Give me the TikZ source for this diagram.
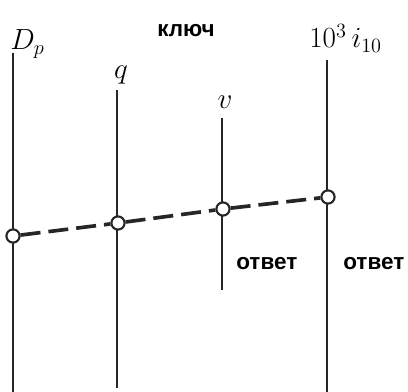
\documentclass[tikz,border=0pt]{standalone}
\usepackage{fontspec}
\newfontfamily\rusans{Liberation Sans}

\begin{document}
\begin{tikzpicture}[
    x=0.025cm, y=-0.025cm,
    scaleline/.style={black!85, line width=1.7pt},
    keyline/.style={black!85, line width=2.6pt, dash pattern=on 0.5cm off 0.2cm},
    pin/.style={circle, draw=black!85, fill=white, line width=1.5pt,
                minimum size=0.33cm, inner sep=0pt},
    scalelbl/.style={font=\fontsize{21}{24}\selectfont, inner sep=0pt},
    word/.style={font=\rusans\bfseries\fontsize{16}{19}\selectfont, inner sep=0pt}
]
\useasboundingbox (0,0) rectangle (408,392);

% =========================================================
% SCALES: ends of the four vertical lines
% =========================================================
\coordinate (dpT) at (13,53);   \coordinate (dpB) at (13,392);
\coordinate (qT)  at (117,90);  \coordinate (qB)  at (117,388);
\coordinate (vT)  at (222,118); \coordinate (vB)  at (222,290);
\coordinate (iT)  at (327,60);  \coordinate (iB)  at (327,392);

\draw[scaleline] (dpT) -- (dpB);
\draw[scaleline] (qT) -- (qB);
\draw[scaleline] (vT) -- (vB);
\draw[scaleline] (iT) -- (iB);

% scale labels
\node[scalelbl, anchor=base west] (dplbl) at (10,50) {$D_p$};
\node[scalelbl, anchor=base] (qlbl) at (121,79) {$q$};
\node[scalelbl, anchor=base] (vlbl) at (225,109) {$v$};
\node[scalelbl, anchor=base west] (ilbl) at (309,48) {$10^3\, i_{10}$};

% =========================================================
% KEY LINE through the four scales
% =========================================================
\node[pin] (dp) at (13,236) {};
\node[pin] (q)  at (118,223) {};
\node[pin] (v)  at (223,209) {};
\node[pin] (i)  at (328,197) {};

\draw[keyline] (dp) -- (q) -- (v) -- (i);

% words
\node[word, anchor=base] (key) at (186,37) {ключ};
\node[word, anchor=base west] (ans1) at (236,270) {ответ};
\node[word, anchor=base west] (ans2) at (343,270) {ответ};

\end{tikzpicture}
\end{document}
